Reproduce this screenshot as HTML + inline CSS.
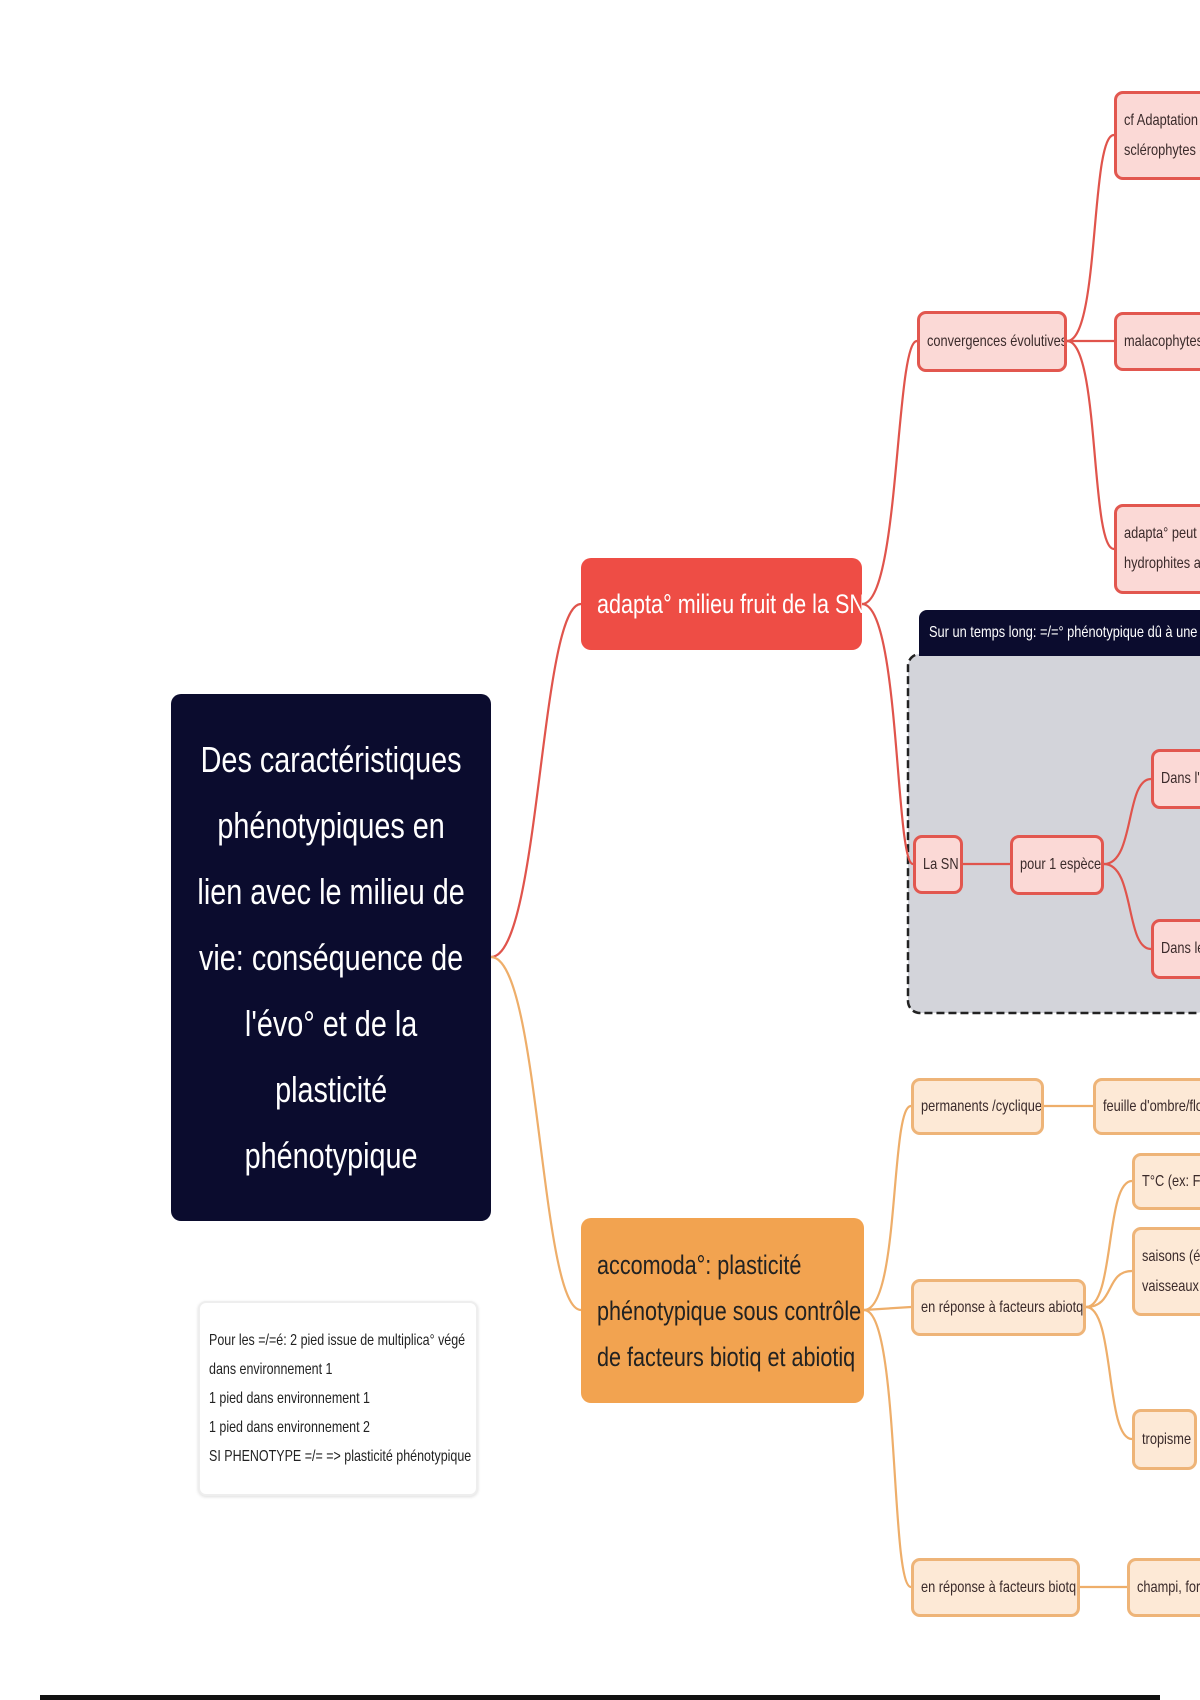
<!DOCTYPE html>
<html><head><meta charset="utf-8"><style>
html,body{margin:0;padding:0;background:#fff;}
body{width:1200px;height:1700px;position:relative;overflow:hidden;font-family:"Liberation Sans",sans-serif;}
.n{position:absolute;box-sizing:border-box;display:flex;align-items:center;white-space:nowrap;overflow:hidden;}
.n>span{display:inline-block;transform:scaleX(0.8);transform-origin:left center;}
.r{background:#fbd9d6;border:3px solid #e2574f;border-radius:9px;color:#3a2a2a;font-size:16px;line-height:30px;padding-left:7px;}
.o{background:#fde9d6;border:3px solid #eeb478;border-radius:9px;color:#3a2a2a;font-size:16px;line-height:30px;padding-left:7px;}
</style></head><body>
<svg width="1200" height="1700" style="position:absolute;left:0;top:0" fill="none">
<rect x="908" y="654" width="300" height="359" rx="12" fill="#d3d4da" stroke="#222" stroke-width="2.5" stroke-dasharray="8,4"/>
<g stroke="#e0544c" stroke-width="2.2">
<path d="M491 957 C540 957 540 604 581 604"/>
<path d="M862 604 C900 604 895 341 917 341"/>
<path d="M862 604 C900 604 895 864 913 864"/>
<path d="M1067 341 C1100 341 1090 135 1114 135"/>
<path d="M1067 341 L1114 341"/>
<path d="M1067 341 C1100 341 1090 549 1114 549"/>
<path d="M963 864 L1010 864"/>
<path d="M1104 864 C1135 864 1125 779 1151 779"/>
<path d="M1104 864 C1135 864 1125 949 1151 949"/>
</g>
<g stroke="#eeae6a" stroke-width="2.2">
<path d="M491 957 C540 957 540 1310 581 1310"/>
<path d="M864 1310 C900 1310 890 1106 911 1106"/>
<path d="M864 1310 L911 1307"/>
<path d="M864 1310 C900 1310 890 1587 911 1587"/>
<path d="M1044 1106 L1093 1106"/>
<path d="M1086 1307 C1115 1307 1105 1181 1132 1181"/>
<path d="M1086 1307 C1115 1307 1105 1271 1132 1271"/>
<path d="M1086 1307 C1115 1307 1105 1439 1132 1439"/>
<path d="M1080 1587 L1127 1587"/>
</g>
<rect x="40" y="1695" width="1120" height="5" fill="#111"/>
</svg>

<div class="n" style="left:171px;top:694px;width:320px;height:527px;background:#0b0c2e;border-radius:10px;color:#fff;font-size:36px;line-height:66px;justify-content:center;text-align:center;">
<div style="transform:scaleX(0.8);white-space:nowrap;">Des caractéristiques<br>phénotypiques en<br>lien avec le milieu de<br>vie: conséquence de<br>l'évo° et de la<br>plasticité<br>phénotypique</div></div>

<div class="n" style="left:581px;top:558px;width:281px;height:92px;background:#ee4d45;border-radius:10px;color:#fff;font-size:27px;padding-left:16px;"><span>adapta° milieu fruit de la SN</span></div>

<div class="n" style="left:581px;top:1218px;width:283px;height:185px;background:#f2a350;border-radius:10px;color:#222;font-size:27px;line-height:46px;padding-left:16px;"><span>accomoda°: plasticité<br>phénotypique sous contrôle<br>de facteurs biotiq et abiotiq</span></div>

<div class="n" style="left:198px;top:1301px;width:280px;height:195px;background:#fff;border:2px solid #eee;border-radius:8px;color:#222;font-size:16px;line-height:29px;padding-left:9px;box-shadow:0 1px 3px #ddd;"><span style="transform:scaleX(0.78)">Pour les =/=é: 2 pied issue de multiplica° végé<br>dans environnement 1<br>1 pied dans environnement 1<br>1 pied dans environnement 2<br>SI PHENOTYPE =/= =&gt; plasticité phénotypique</span></div>

<div class="n r" style="left:917px;top:311px;width:150px;height:61px;"><span>convergences évolutives</span></div>
<div class="n r" style="left:1114px;top:91px;width:100px;height:89px;"><span>cf Adaptation<br>sclérophytes et</span></div>
<div class="n r" style="left:1114px;top:312px;width:100px;height:59px;"><span>malacophytes</span></div>
<div class="n r" style="left:1114px;top:504px;width:100px;height:90px;"><span>adapta° peut r<br>hydrophites av</span></div>

<div class="n" style="left:919px;top:610px;width:290px;height:46px;background:#0b0c2e;border-radius:8px 8px 0 0;color:#fff;font-size:16px;padding-left:10px;"><span>Sur un temps long: =/=° phénotypique dû à une v</span></div>

<div class="n r" style="left:913px;top:835px;width:50px;height:59px;"><span>La SN</span></div>
<div class="n r" style="left:1010px;top:835px;width:94px;height:60px;"><span>pour 1 espèce</span></div>
<div class="n r" style="left:1151px;top:749px;width:60px;height:60px;"><span>Dans l'e</span></div>
<div class="n r" style="left:1151px;top:919px;width:60px;height:60px;"><span>Dans le</span></div>

<div class="n o" style="left:911px;top:1078px;width:133px;height:57px;"><span>permanents /cyclique</span></div>
<div class="n o" style="left:1093px;top:1078px;width:120px;height:57px;"><span>feuille d'ombre/flo</span></div>
<div class="n o" style="left:1132px;top:1153px;width:80px;height:57px;"><span>T°C (ex: Flo</span></div>
<div class="n o" style="left:1132px;top:1227px;width:80px;height:89px;"><span>saisons (été<br>vaisseaux a</span></div>
<div class="n o" style="left:911px;top:1279px;width:175px;height:57px;"><span>en réponse à facteurs abiotq</span></div>
<div class="n o" style="left:1132px;top:1409px;width:65px;height:61px;"><span>tropisme</span></div>
<div class="n o" style="left:911px;top:1558px;width:169px;height:59px;"><span>en réponse à facteurs biotq</span></div>
<div class="n o" style="left:1127px;top:1558px;width:90px;height:59px;"><span>champi, forr</span></div>
</body></html>
